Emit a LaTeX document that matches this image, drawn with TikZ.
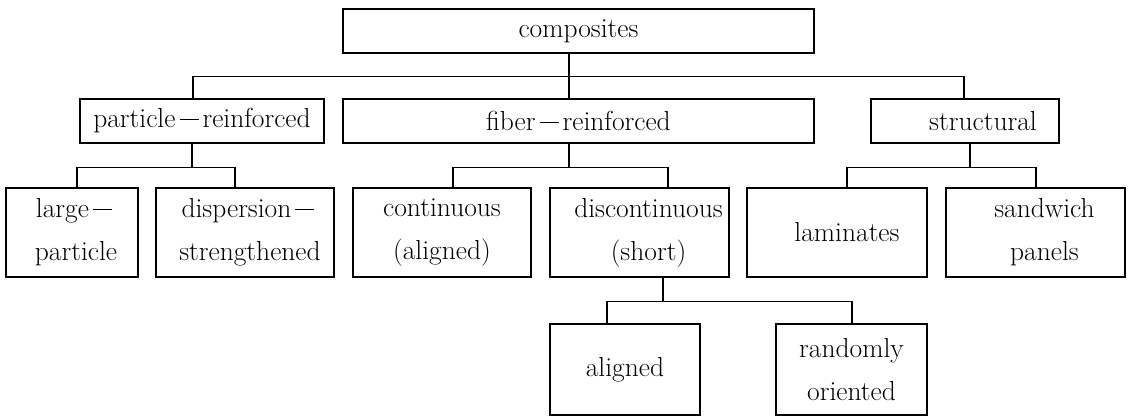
\documentclass[tikz,border=0pt]{standalone}
\usetikzlibrary{calc}
% wide dash between compound words
\newcommand\jdash{\kern4pt\rule[7.5pt]{19pt}{1.3pt}\kern4pt}
\begin{document}
\begin{tikzpicture}[x=1pt,y=-1pt,
  every node/.style={font=\fontsize{27.5}{43}\selectfont},
  box/.style={draw,line width=1.2pt,inner sep=0pt,align=center,minimum height=44pt},
  tallbox/.style={box,minimum height=89pt},
  leafbox/.style={box,minimum height=91pt},
  link/.style={line width=1.2pt}]
\useasboundingbox (0,0) rectangle (1130,416);

% level 0
\node[box,minimum width=471pt] (comp) at (578.5,31) {composites};

% level 1
\node[box,minimum width=244pt] (part) at (202,121) {particle\jdash reinforced};
\node[box,minimum width=471pt] (fiber) at (578.5,121) {fiber\jdash reinforced};
\node[box,minimum width=188pt] (struct) at (965,121) {\hspace*{36pt}structural};

% level 2
\node[tallbox,minimum width=132pt] (large) at (72,232.5) {\hspace*{8pt}large\jdash\\\hspace*{8pt}particle};
\node[tallbox,minimum width=178pt] (disp) at (245,232.5) {\hspace*{10pt}dispersion\jdash\\\hspace*{10pt}strengthened};
\node[tallbox,minimum width=178pt] (cont) at (442,232.5) {continuous\\(aligned)};
\node[tallbox,minimum width=179pt] (disc) at (639.5,232.5) {\hspace*{18pt}discontinuous\\\hspace*{18pt}(short)};
\node[tallbox,minimum width=180pt] (lam) at (837,232.5) {\hspace*{20pt}laminates};
\node[tallbox,minimum width=179pt] (sand) at (1035.5,232.5) {\hspace*{18pt}sandwich\\\hspace*{18pt}panels};

% level 3
\node[leafbox,minimum width=150pt] (ali) at (625,369.5) {aligned};
\node[leafbox,minimum width=151pt] (rand) at (851.5,369.5) {randomly\\oriented};

% connectors
\draw[link] ([xshift=-9.5]comp.south) -- ++(0,23) -| ([xshift=-9]part.north);
\draw[link] ([xshift=-9.5]comp.south) -- ++(0,23) -| ([xshift=-9.5]fiber.north);
\draw[link] ([xshift=-9.5]comp.south) -- ++(0,23) -| ([xshift=-1]struct.north);

\draw[link] ([xshift=-10]part.south) -- ++(0,24) -| ([xshift=5]large.north);
\draw[link] ([xshift=-10]part.south) -- ++(0,24) -| ([xshift=-10]disp.north);

\draw[link] ([xshift=-9.5]fiber.south) -- ++(0,24) -| ([xshift=11]cont.north);
\draw[link] ([xshift=-9.5]fiber.south) -- ++(0,24) -| ([xshift=28.5]disc.north);

\draw[link] ([xshift=5]struct.south) -- ++(0,24) -| ([xshift=10]lam.north);
\draw[link] ([xshift=5]struct.south) -- ++(0,24) -| ([xshift=0.5]sand.north);

\draw[link] ([xshift=23.5]disc.south) -- ++(0,24) -| ([xshift=-18]ali.north);
\draw[link] ([xshift=23.5]disc.south) -- ++(0,24) -| ([xshift=0.5]rand.north);
\end{tikzpicture}
\end{document}
